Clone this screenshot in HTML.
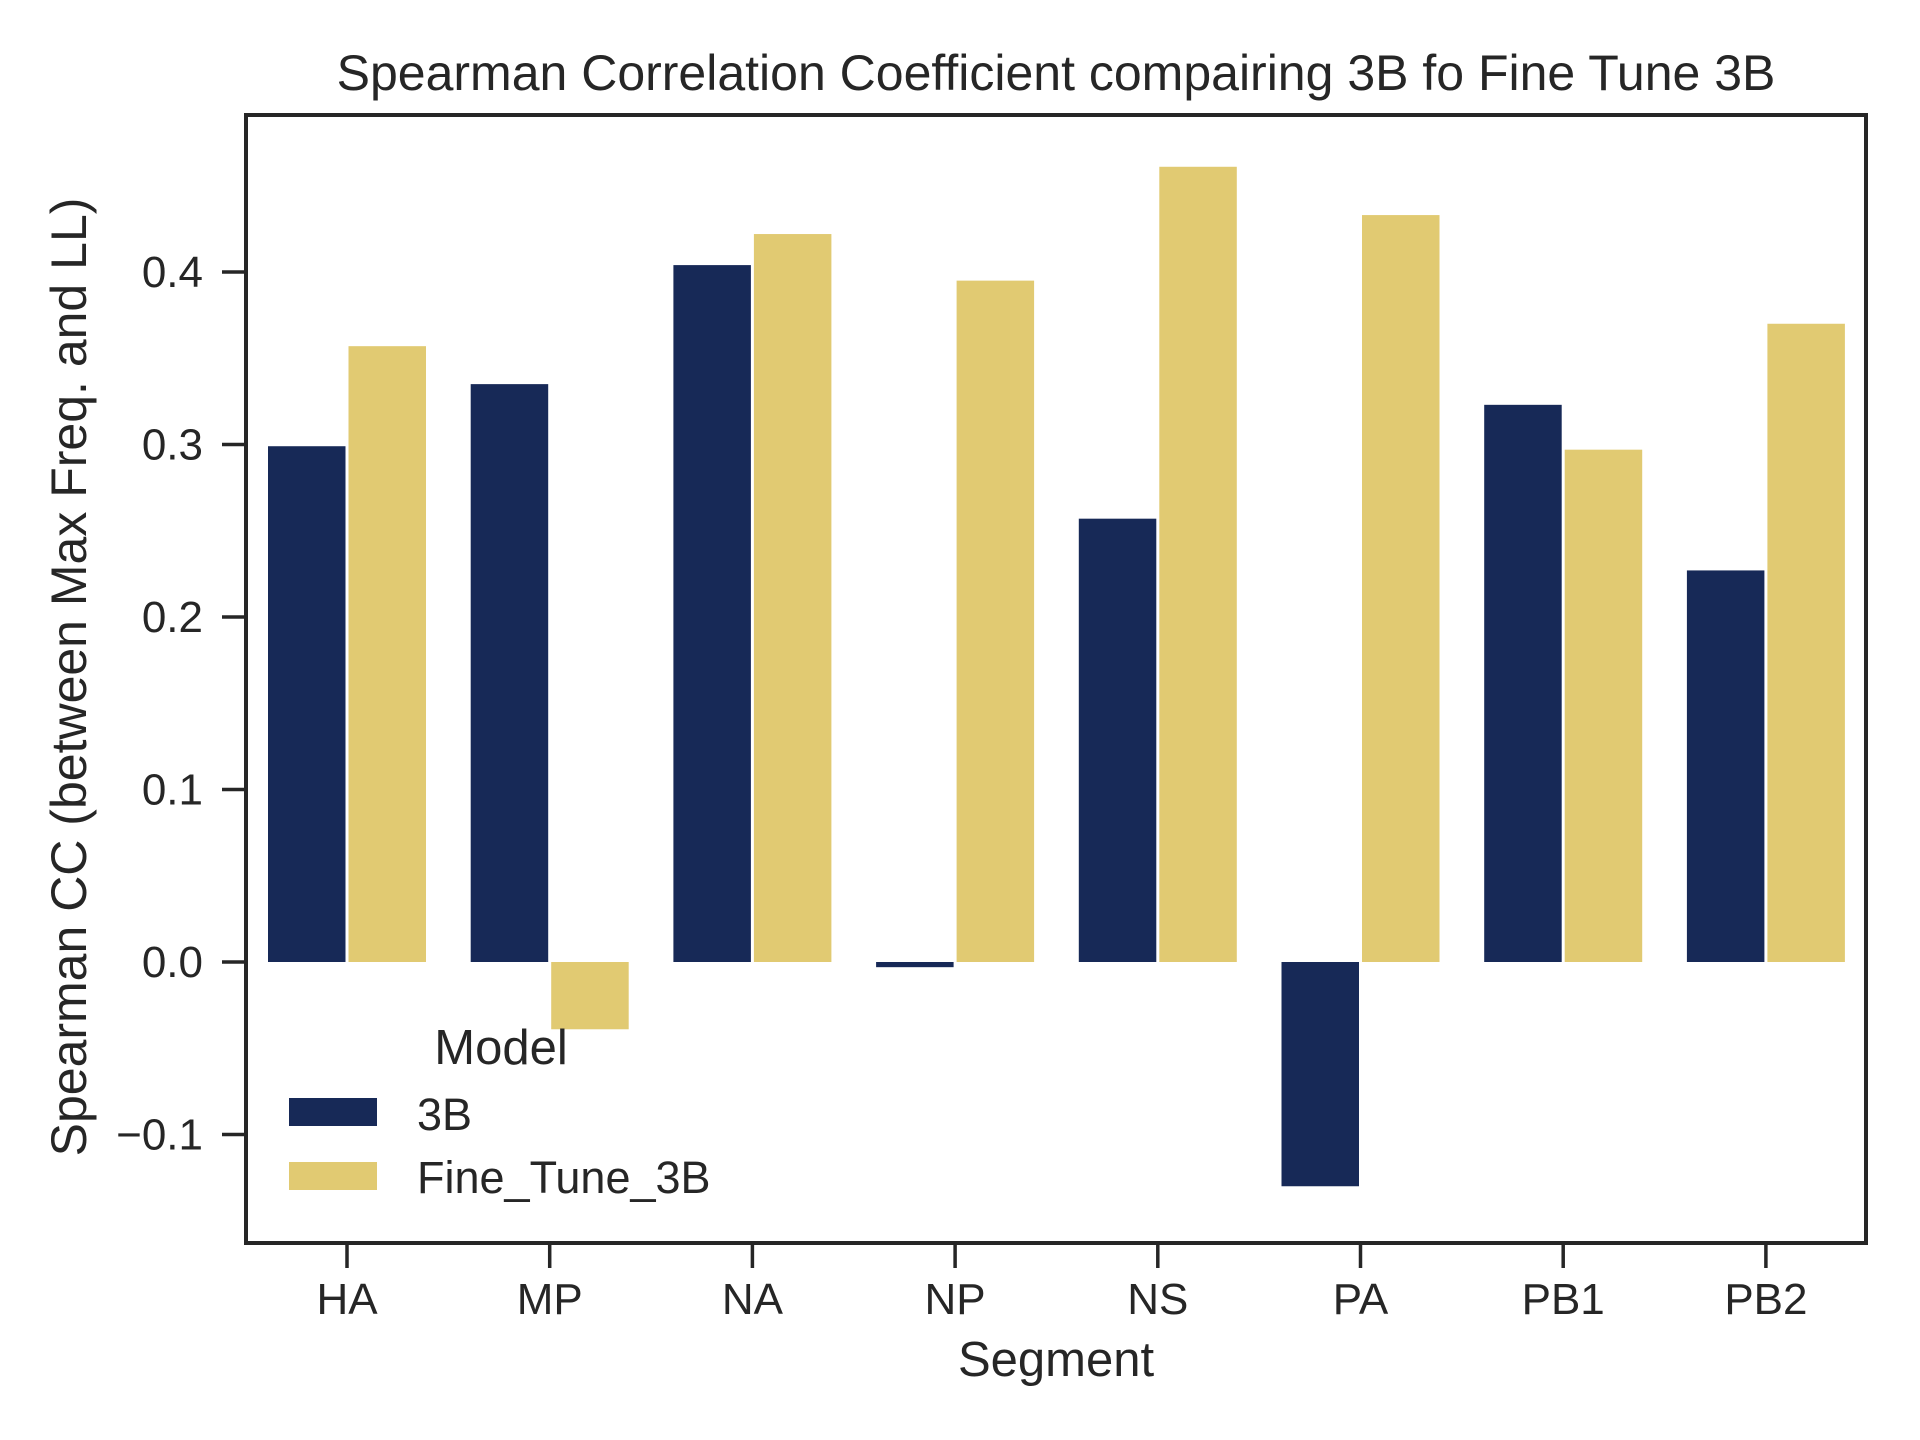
<!DOCTYPE html>
<html><head><meta charset="utf-8"><style>
html,body{margin:0;padding:0;background:#fff;}
svg{display:block;font-family:"Liberation Sans",Arial,sans-serif;fill:#262626;}
</style></head><body>
<svg id="chart" width="1920" height="1440" viewBox="0 0 1920 1440" xmlns="http://www.w3.org/2000/svg">
<rect width="1920" height="1440" fill="#fff"/>
<text x="1056" y="90" font-size="50" text-anchor="middle">Spearman Correlation Coefficient compairing 3B fo Fine Tune 3B</text>
<g id="bars"></g>
<g id="axes"></g>
<text x="1056" y="1376" font-size="49" text-anchor="middle">Segment</text>
<text transform="translate(86,677) rotate(-90)" font-size="50" text-anchor="middle">Spearman CC (between Max Freq. and LL)</text>
<g id="legend">
<text x="501" y="1064" font-size="49" text-anchor="middle">Model</text>
<rect x="289" y="1098" width="88" height="28" fill="#172957"/>
<text x="417" y="1130" font-size="45">3B</text>
<rect x="289" y="1162" width="88" height="28" fill="#e1ca72"/>
<text x="417" y="1193" font-size="45">Fine_Tune_3B</text>
</g>
</svg>
<script>
const categories = ["HA","MP","NA","NP","NS","PA","PB1","PB2"];
const series3B = [0.299, 0.335, 0.404, -0.003, 0.257, -0.130, 0.323, 0.227];
const seriesFT = [0.357, -0.039, 0.422, 0.395, 0.461, 0.433, 0.297, 0.370];
const yTicks = [-0.1, 0.0, 0.1, 0.2, 0.3, 0.4];
const yTickLabels = ["\u22120.1","0.0","0.1","0.2","0.3","0.4"];

const L=246, R=1866, T=115, B=1243;
const y0px=962, perUnit=1725;
function y(v){ return y0px - v*perUnit; }
const step=202.7, x0=347;
function x(i){ return x0 + i*step; }
const NS="http://www.w3.org/2000/svg";
const bars=document.getElementById('bars');
const axes=document.getElementById('axes');
function mk(tag, attrs, parent){ const e=document.createElementNS(NS,tag); for(const k in attrs) e.setAttribute(k,attrs[k]); parent.appendChild(e); return e; }

const bw=80.5;
[[series3B,"#172957",-1,"3b"],[seriesFT,"#e1ca72",0,"fine-tune-3b"]].forEach(([s,col,off,nm])=>{
  s.forEach((v,i)=>{
    const xl = x(i) + off*bw;
    const top=Math.min(y(v),y(0)), h=Math.abs(y(v)-y(0));
    const r=mk('rect',{x:xl+1.5,y:top,width:bw-3,height:Math.max(h,1),fill:col},bars);
    
    
  });
});

const frame=mk('rect',{x:L,y:T,width:R-L,height:B-T,fill:'none',stroke:'#262626','stroke-width':4},axes);



yTicks.forEach((v,i)=>{
  const ln=mk('line',{x1:L-24,x2:L,y1:y(v),y2:y(v),stroke:'#262626','stroke-width':3.5},axes);
  
  
  const t=mk('text',{x:203,y:y(v)+15,'font-size':44,'text-anchor':'end'},axes);
  t.textContent=yTickLabels[i];
  
  
});
categories.forEach((c,i)=>{
  const ln=mk('line',{x1:x(i),x2:x(i),y1:B,y2:B+25,stroke:'#262626','stroke-width':3.5},axes);
  
  
  const t=mk('text',{x:x(i),y:1314,'font-size':44,'text-anchor':'middle'},axes);
  t.textContent=c;
  
  
});
</script>
</body></html>
